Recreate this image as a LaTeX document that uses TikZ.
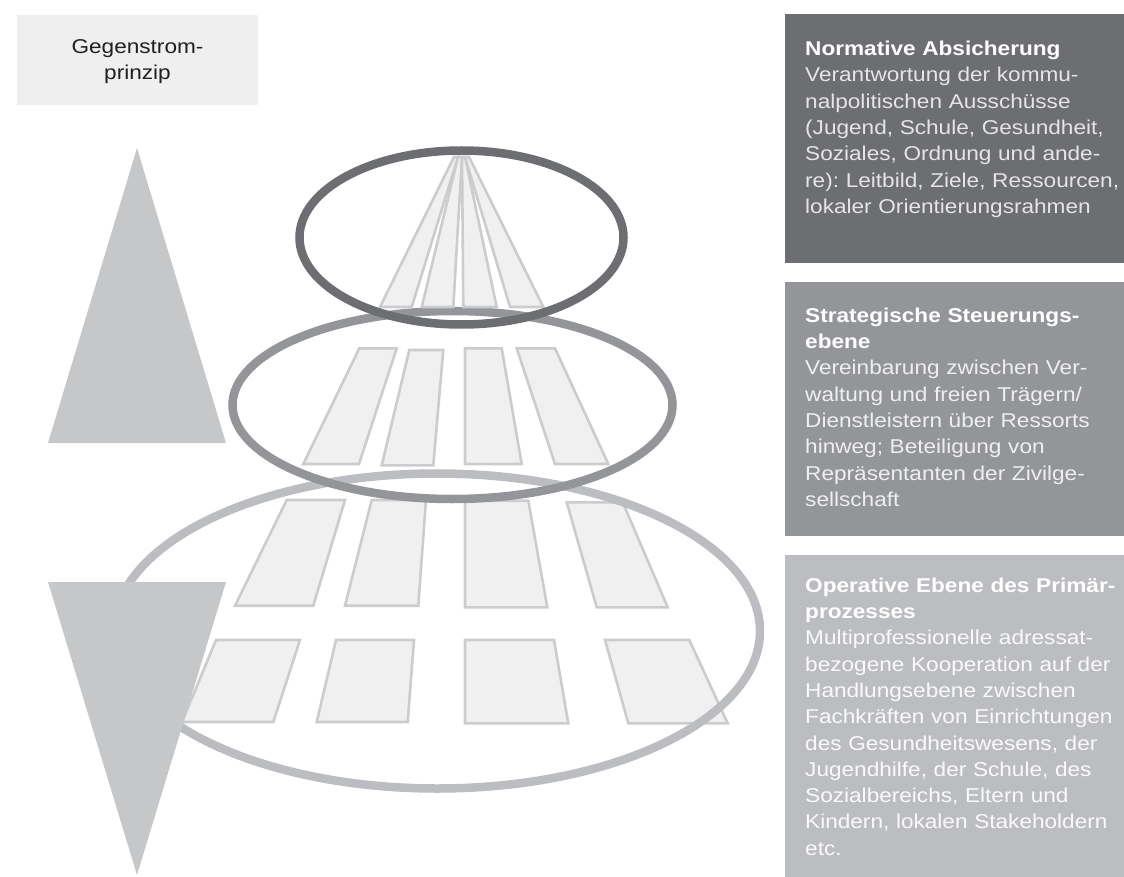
\documentclass[tikz,border=0pt]{standalone}
\usepackage{fontspec}
\setmainfont[FakeStretch=1.13]{Liberation Sans}
\frenchspacing
\definecolor{ringdark}{HTML}{6D6E71}
\definecolor{ringmid}{HTML}{939598}
\definecolor{ringlight}{HTML}{BCBDC0}
\definecolor{wedgegray}{HTML}{C6C7C9}
\definecolor{stripefill}{HTML}{F0F0F0}
\definecolor{stripeline}{HTML}{CBCCCE}
\definecolor{labelfill}{HTML}{EFEFEF}
\definecolor{labeltext}{HTML}{231F20}

\begin{document}
\begin{tikzpicture}[x=1pt,y=-1pt,
	ring/.style={line width=8.5pt},
	stripe/.style={draw=stripeline,fill=stripefill,line width=2.6pt},
	wedge/.style={fill=wedgegray}]
	\useasboundingbox (0,0) rectangle (1124,877);

	\fill[labelfill] (17,15) rectangle (258,105);
	\node[align=center,inner sep=0pt,text=labeltext,font=\fontsize{20}{26}\selectfont] (gegen) at (137.5,62) {Gegenstrom-\\prinzip};

	\fill[wedge] (137,148) -- (226,443) -- (48,443) -- cycle;

	% unterste Ebene
	\draw[stripe] (286.7,500) -- (345,500) -- (313.3,605.7) -- (235,605.7) -- cycle;
	\draw[stripe] (371.7,500) -- (426,500) -- (418.3,605.7) -- (345,605.7) -- cycle;
	\draw[stripe] (465,500.7) -- (528.3,500.7) -- (547.3,607.3) -- (465,607.3) -- cycle;
	\draw[stripe] (566.7,502.3) -- (622.7,502.3) -- (667.7,607.3) -- (596.7,607.3) -- cycle;
	\draw[stripe] (216,640) -- (300,640) -- (273.3,722) -- (182,722) -- cycle;
	\draw[stripe] (336,640) -- (414,640) -- (407.7,722) -- (316.7,722) -- cycle;
	\draw[stripe] (465,640) -- (554,640) -- (568.3,723.3) -- (465,723.3) -- cycle;
	\draw[stripe] (605,640) -- (689.3,640) -- (727.7,723.3) -- (628.3,723.3) -- cycle;
	\draw[ring,draw=ringlight] (437,631) ellipse [x radius=323pt,y radius=157.5pt];

	% mittlere Ebene
	\draw[stripe] (359.3,348.3) -- (396.7,348.3) -- (359,464) -- (303.3,464) -- cycle;
	\draw[stripe] (409.3,350) -- (443.3,350) -- (433.3,465.3) -- (381.7,465.3) -- cycle;
	\draw[stripe] (465,348.3) -- (501.7,348.3) -- (521.7,464) -- (465,464) -- cycle;
	\draw[stripe] (516.7,348.3) -- (555,348.3) -- (608.3,464) -- (555,464) -- cycle;
	\draw[ring,draw=ringmid] (452.5,405) ellipse [x radius=220pt,y radius=94pt];

	% oberste Ebene
	\draw[stripe] (454,157) -- (458,157) -- (411.7,307) -- (380,307) -- cycle;
	\draw[stripe] (458,157) -- (462,157) -- (453.3,307) -- (421.7,307) -- cycle;
	\draw[stripe] (462,157) -- (465,157) -- (496.7,307) -- (463.3,307) -- cycle;
	\draw[stripe] (465,157) -- (469,157) -- (543.3,307) -- (510,307) -- cycle;
	\draw[ring,draw=ringdark] (461.5,237.5) ellipse [x radius=162pt,y radius=87pt];

	\fill[wedge] (48,582) -- (226,582) -- (137,875) -- cycle;

	\fill[ringdark] (785,14) rectangle (1124,263);
	\fill[ringmid] (785,282) rectangle (1124,536);
	\fill[ringlight] (785,555) rectangle (1124,877);
	\begin{scope}[every node/.style={anchor=north west,align=left,text width=330pt,inner sep=0pt,font=\fontsize{20}{26.3}\selectfont}]
		\node[text=white!82!ringdark] (norm) at (805,41) {\textbf{\color{white}Normative Absicherung}\\Verantwortung der kommu-\\nalpolitischen Ausschüsse\\(Jugend, Schule, Gesundheit,\\Soziales, Ordnung und ande-\\re): Leitbild, Ziele, Ressourcen,\\lokaler Orientierungsrahmen};
		\node[text=white!85!ringmid] (strat) at (805,307.6) {\textbf{\color{white}Strategische Steuerungs-}\\\textbf{\color{white}ebene}\\Vereinbarung zwischen Ver-\\waltung und freien Trägern/\\Dienstleistern über Ressorts\\hinweg; Beteiligung von\\Repräsentanten der Zivilge-\\sellschaft};
		\node[text=white!92!ringlight] (oper) at (805,577.6) {\textbf{\color{white}Operative Ebene des Primär-}\\\textbf{\color{white}prozesses}\\Multiprofessionelle adressat-\\bezogene Kooperation auf der\\Handlungsebene zwischen\\Fachkräften von Einrichtungen\\des Gesundheitswesens, der\\Jugendhilfe, der Schule, des\\Sozialbereichs, Eltern und\\Kindern, lokalen Stakeholdern\\etc.};
	\end{scope}
\end{tikzpicture}
\end{document}
